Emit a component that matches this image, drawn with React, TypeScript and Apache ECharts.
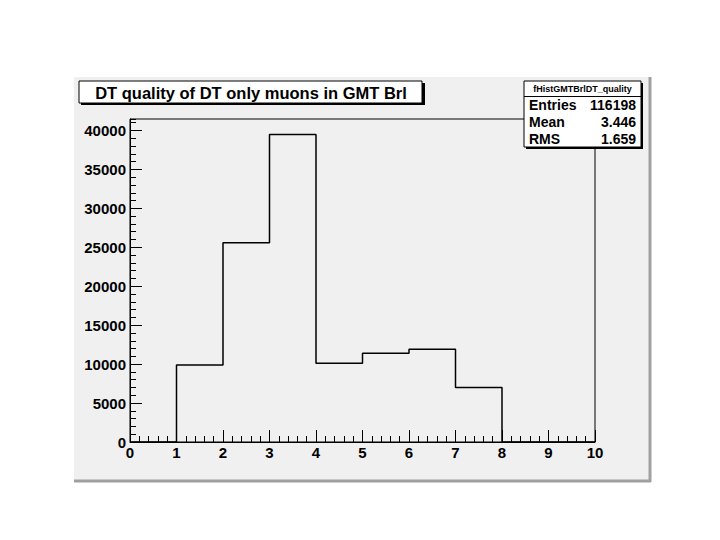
import React, { useEffect, useRef } from "react";
import * as echarts from "echarts";

// Histogram data
const binLowEdges = [1, 2, 3, 4, 5, 6, 7];
const binCounts = [9900, 25600, 39500, 10100, 11400, 11900, 7000];
const xRange = [0, 10];
const yMax = 41475;
const yMajor = 5000;
const yMinor = 1000;

const titleText = "DT quality of DT only muons in GMT Brl";
const statsName = "fHistGMTBrlDT_quality";
const statsLabels = ["Entries", "Mean", "RMS"];
const statsValues = ["116198", "3.446", "1.659"];

const FONT = "'Liberation Sans', Arial, Helvetica, sans-serif";

export default function App() {
  const ref = useRef<HTMLDivElement>(null);

  useEffect(() => {
    if (!ref.current) return;
    const chart = echarts.init(ref.current, null, { renderer: "svg" });

    const data: number[][] = [[xRange[0], 0]];
    binLowEdges.forEach((e, i) => data.push([e, binCounts[i]]));
    data.push([binLowEdges[binLowEdges.length - 1] + 1, 0]);
    data.push([xRange[1], 0]);

    const statsX = 524;
    const statsY = 81;
    const statsW = 117;
    const statsH = 66;

    const graphics: any[] = [
      // pad
      {
        type: "rect",
        z: -10,
        silent: true,
        shape: { x: 74, y: 77, width: 577, height: 405 },
        style: { fill: "#f0f0f0" },
      },
      {
        type: "line",
        z: -9,
        silent: true,
        shape: { x1: 74, y1: 481, x2: 651, y2: 481 },
        style: { stroke: "#a0a0a0", lineWidth: 3 },
      },
      {
        type: "line",
        z: -9,
        silent: true,
        shape: { x1: 650, y1: 77, x2: 650, y2: 482 },
        style: { stroke: "#a0a0a0", lineWidth: 3 },
      },
      // title box shadow + box
      {
        type: "rect",
        z: 10,
        silent: true,
        shape: { x: 81, y: 83, width: 344, height: 22 },
        style: { fill: "#000" },
      },
      {
        type: "rect",
        z: 11,
        silent: true,
        shape: { x: 79, y: 81, width: 343, height: 22 },
        style: { fill: "#fff", stroke: "#000", lineWidth: 1 },
      },
      {
        type: "text",
        z: 12,
        silent: true,
        x: 251,
        y: 92.5,
        style: {
          text: titleText,
          font: `bold 16.5px ${FONT}`,
          fill: "#000",
          align: "center",
          verticalAlign: "middle",
        },
      },
      // stats box shadow + box
      {
        type: "rect",
        z: 10,
        silent: true,
        shape: { x: statsX + 2, y: statsY + 2, width: statsW, height: statsH },
        style: { fill: "#000" },
      },
      {
        type: "rect",
        z: 11,
        silent: true,
        shape: { x: statsX, y: statsY, width: statsW, height: statsH },
        style: { fill: "#fff", stroke: "#000", lineWidth: 1 },
      },
      {
        type: "line",
        z: 12,
        silent: true,
        shape: { x1: statsX, y1: 96.5, x2: statsX + statsW, y2: 96.5 },
        style: { stroke: "#000", lineWidth: 1 },
      },
      {
        type: "text",
        z: 12,
        silent: true,
        x: statsX + statsW / 2,
        y: 88.5,
        style: {
          text: statsName,
          font: `bold 9px ${FONT}`,
          fill: "#000",
          align: "center",
          verticalAlign: "middle",
        },
      },
    ];

    statsLabels.forEach((lab, i) => {
      const y = 105 + i * 17;
      graphics.push({
        type: "text",
        z: 12,
        silent: true,
        x: statsX + 5,
        y,
        style: {
          text: lab,
          font: `bold 14px ${FONT}`,
          fill: "#000",
          align: "left",
          verticalAlign: "middle",
        },
      });
      graphics.push({
        type: "text",
        z: 12,
        silent: true,
        x: statsX + statsW - 5,
        y,
        style: {
          text: statsValues[i],
          font: `bold 14px ${FONT}`,
          fill: "#000",
          align: "right",
          verticalAlign: "middle",
        },
      });
    });

    const labelStyle = {
      color: "#000",
      fontFamily: FONT,
      fontWeight: "bold" as const,
      fontSize: 15,
    };

    chart.setOption({
      animation: false,
      backgroundColor: "#ffffff",
      grid: {
        left: 130,
        right: 125,
        top: 119,
        bottom: 98,
        show: true,
        borderColor: "#000",
        borderWidth: 1,
        backgroundColor: "transparent",
      },
      xAxis: {
        type: "value",
        min: xRange[0],
        max: xRange[1],
        interval: 1,
        axisLine: { show: true, onZero: false, lineStyle: { color: "#000", width: 1 } },
        axisTick: { show: true, inside: true, length: 12, lineStyle: { color: "#000", width: 1 } },
        minorTick: { show: true, splitNumber: 5, length: 6, lineStyle: { color: "#000", width: 1 } },
        splitLine: { show: false },
        axisLabel: { ...labelStyle, margin: 3 },
      },
      yAxis: [
        {
          type: "value",
          min: 0,
          max: yMax,
          interval: yMajor,
          axisLine: { show: true, onZero: false, lineStyle: { color: "#000", width: 1 } },
          axisTick: { show: true, inside: true, length: 12, lineStyle: { color: "#000", width: 1 } },
          splitLine: { show: false },
          axisLabel: {
            ...labelStyle,
            margin: 4,
            showMaxLabel: false,
            formatter: (v: number) => (v % yMajor === 0 ? String(v) : ""),
          },
        },
        {
          type: "value",
          min: 0,
          max: yMax,
          interval: yMinor,
          position: "left",
          axisLine: { show: false },
          axisTick: { show: true, inside: true, length: 6, lineStyle: { color: "#000", width: 1 } },
          splitLine: { show: false },
          axisLabel: { show: false },
        },
      ],
      graphic: graphics,
      series: [
        {
          type: "line",
          step: "end",
          data,
          yAxisIndex: 0,
          symbol: "none",
          lineStyle: { color: "#000", width: 1.5 },
          z: 5,
        },
      ],
    });

    return () => chart.dispose();
  }, []);

  return (
    <div
      ref={ref}
      style={{ position: "fixed", left: 0, top: 0, width: 720, height: 540 }}
    />
  );
}
